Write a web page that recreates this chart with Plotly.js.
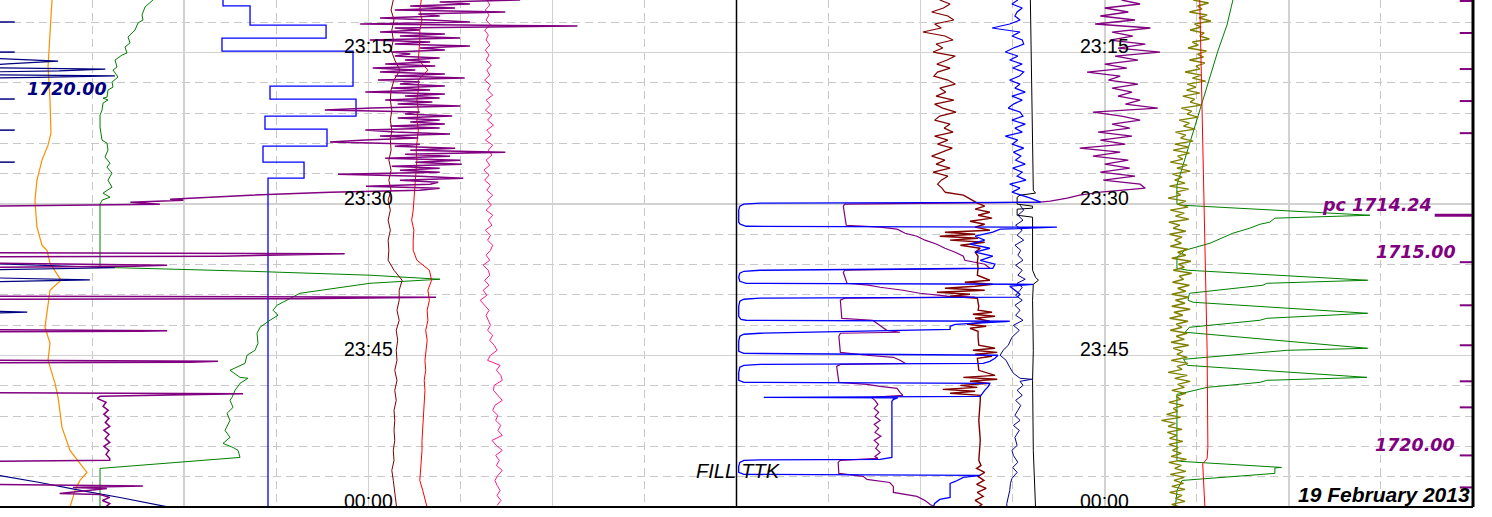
<!DOCTYPE html>
<html><head><meta charset="utf-8">
<script src="https://cdn.plot.ly/plotly-3.0.1.min.js"></script>
<style>html,body{margin:0;padding:0;background:#fff;overflow:hidden}#chart{width:1492px;height:517px}</style>
</head><body><div id="chart"></div>
<script>
// Time axis: minutes after 23:00 (60 = 00:00). Values: percent of track width (0-100).
const T_START = 9.78;           // first logged sample
const T_END = 60;               // 00:00
// ---- evenly sampled series (sample step in minutes) ----
const STEP2 = 0.19828, STEP3 = 0.29742, STEP4 = 0.39656, STEP5 = 0.4957, STEP10 = 0.9914;

// ===== LEFT TRACK =====
const orangeT = [9.78,13.05,16.42,19.69,22.97,24.16,25.64,27.63,29.61,31.10,32.28,34.07,34.57,35.85,37.54,38.53,40.22,42.20,43.78,45.47,47.75,49.14,52.11,54.39,55.68,56.57,57.37,58.36,60.04];
const orangeV = [7.06,6.79,6.52,6.79,6.92,6.52,5.70,5.02,4.75,4.89,5.02,5.70,6.38,6.79,8.28,6.79,6.52,6.11,6.79,6.52,7.47,7.88,8.42,9.50,10.86,11.81,10.86,10.18,9.50];

const greenLT = [9.78,10.47,11.27,11.76,12.06,12.75,13.05,13.45,14.04,14.44,15.03,15.23,15.73,16.42,16.72,17.41,17.91,18.41,18.70,19.40,19.50,19.69,19.99,20.69,21.18,22.37,23.66,23.96,24.65,25.34,25.94,26.34,26.93,27.63,28.32,28.91,29.31,29.61,30.00,36.25,36.65,37.04,37.44,37.84,38.83,39.32,40.02,40.51,41.01,41.50,42.20,42.79,43.78,44.48,44.97,45.77,46.46,47.16,47.25,47.75,48.44,49.14,49.44,50.13,50.72,51.42,52.41,53.10,53.70,54.10,54.39,55.09,56.18,60.04];
const greenLV = [20.77,19.69,19.28,19.42,18.74,18.33,17.92,17.38,17.65,16.97,17.24,16.57,15.61,15.89,15.34,16.02,15.21,15.34,14.66,14.53,13.99,14.66,13.99,13.85,13.58,13.58,13.85,14.53,14.66,14.26,14.94,14.53,15.21,14.66,15.21,13.99,14.94,13.85,13.58,13.58,33.95,50.24,59.74,50.24,40.73,39.38,37.61,37.07,37.75,36.66,35.30,34.90,35.03,34.62,33.54,33.27,31.23,32.59,33.67,32.59,31.91,31.50,31.23,31.64,30.82,31.23,30.55,31.23,30.28,31.64,32.32,32.59,13.58,13.58];

const blueStepT = [9.78,10.37,12.26,13.55,14.84,18.31,19.59,21.28,22.57,24.25,25.84,27.43,60.04];
const blueStepV = [30.28,33.95,44.27,30.14,47.93,36.66,48.34,35.98,44.40,35.71,41.28,36.39,36.39];

const navyLT = [15.55,15.73,15.83,16.1,16.2,16.5,16.62,16.8,16.9,17.2,17.3,17.45,17.5,35.9,36.3,36.5,37.3,37.5,37.7,40.6,40.7,40.8,56.8,56.9,57.57,58.36,59.06,60.04];
const navyLV = [-1,4.0,7.9,1.0,-1,-1,14.3,8.0,-1,-1,15.6,5.0,-1,-1,15.6,-1,-1,12.2,-1,-1,3.7,-1,-1,0,5.4,10.9,16.3,23.1];

const purpleLNoise = [70.6,59.7,63.8,55.7,61.8,53.6,68.6,56.8,59.7,51.6,
 58.4,63.8,48.9,78.4,53.6,57.0,51.6,60.4,54.3,62.5,
 50.2,58.4,53.6,63.8,57.0,60.4,53.2,55.7,53.6,59.7,
 55.0,58.4,52.3,59.1,50.6,56.4,51.6,60.4,53.6,63.1,
 51.3,57.0,54.3,60.4,53.2,58.4,49.6,60.4,55.0,59.7,
 52.3,58.7,54.0,62.5,50.5,44.1,57.0,55.0,61.4,54.0,
 59.7,55.7,60.4,53.0,59.7,49.6,53.6,61.1,51.6,56.8,
 49.6,44.8,57.0,53.6,61.8,55.7,68.6,55.0,61.1,52.3,
 62.5,56.4,62.7,53.2,59.7,54.3,59.7,45.9,57.0,62.9,
 54.3,59.5,58.4,49.7,59.7,57.0,44.8];
const purpleLT = [28.82,29.11,29.51,29.61,29.81,30.00,30.20,34.81,34.91,35.16,35.21,35.85,36.05,36.15,36.25,39.12,39.22,39.37,39.42,42.45,42.55,42.60,42.65,45.47,45.57,45.67,45.72,48.69,48.79,48.89,49.04,49.24,49.63,50.03,50.43,50.82,51.22,51.62,52.01,52.41,52.81,53.20,53.60,53.99,54.39,54.79,55.19,55.38,55.48,57.76,57.91,58.06,58.16,58.66,58.76,59.05,59.35,59.65,60.04];
const purpleLV = [44.8,34.0,23.1,24.9,17.7,21.7,-1,-1,46.8,29.9,-1,-1,22.7,18.1,-1,-1,59.2,40.7,-1,-1,22.7,19.0,-1,-1,29.6,25.8,-1,-1,33.0,24.9,13.6,13.2,14.4,14.0,14.7,14.1,14.8,14.3,14.9,14.1,14.8,14.3,14.9,14.1,14.8,14.4,14.9,14.9,-1,-1,19.4,9.9,14.5,8.1,13.6,14.9,13.9,14.9,14.3];

const maroonLV = [53.4,53.1,53.5,53.2,53.4,53.1,53.6,54.3,53.5,53.1,53.0,53.2,53.0,53.2,53.0,53.1,52.8,53.1,52.8,53.1,52.7,53.0,52.7,53.0,52.7,52.8,52.7,53.5,54.6,54.2,54.2,53.9,54.2,53.8,54.0,53.8,53.9,53.6,53.9,53.6,53.8,53.5,53.6,53.5,53.6,53.4,53.5,53.2,53.4,53.6,53.8,53.9];
const redLV = [57.2,57.0,57.3,57.0,57.0,56.9,56.8,58.1,56.8,56.8,56.6,56.8,56.6,56.8,56.6,56.5,56.6,56.5,56.4,56.4,56.2,56.1,55.9,56.2,56.1,56.1,56.6,58.3,58.6,58.1,58.3,58.0,58.1,57.8,58.0,57.8,57.7,57.8,57.6,57.7,57.6,57.6,57.4,57.4,57.3,57.3,57.2,57.0,57.0,57.4,57.8,58.1];
const pinkV = [66.1,66.5,65.9,66.4,66.0,66.6,65.8,66.3,66.0,66.5,65.9,
 66.4,66.0,66.7,66.1,66.5,65.8,66.6,66.2,66.9,66.0,
 66.6,65.9,66.8,66.2,67.0,66.1,66.7,65.9,66.9,66.3,
 66.8,66.0,66.5,65.7,66.4,65.8,66.6,66.1,66.9,66.2,
 66.7,66.0,66.9,66.3,66.8,65.9,66.6,66.2,66.9,66.6,
 66.0,66.5,65.6,66.3,66.5,65.8,66.4,65.6,66.1,65.2,
 65.8,66.4,66.0,66.3,66.6,66.2,66.9,66.5,67.1,67.5,
 66.6,66.2,67.9,67.4,68.0,68.2,67.1,67.0,67.6,68.2,
 67.2,66.9,67.6,67.3,68.0,67.6,68.2,66.8,67.4,68.2,
 67.3,67.8,67.4,68.2,67.6,67.2,67.5,67.9,67.5,68.0,67.5];
const leftTickT = [11.96,14.94,19.59,22.67,25.84];

// ===== RIGHT TRACK =====
const maroonRNoise = [27.6,29.0,28.1,26.5,28.7,29.5,26.9,27.8,25.3,28.3,29.4,27.1,28.0,26.7,29.7,28.6,27.2,29.0,27.3,26.8,28.7,29.7,27.6,28.4,27.1,29.5,26.9,28.0,29.8,27.6,26.9,29.0,28.2,29.4,26.9,28.7,27.3,29.3,27.9,26.5,28.3,27.1,29.0,26.7,28.7,27.8,27.3,27.9,28.3];
const maroonRT = [28.82,29.11,29.61,29.91,30.20,30.50,30.80,31.10,31.39,31.69,31.99,32.28,32.58,32.78,32.98,33.18,33.38,33.57,33.77,34.07,34.37,34.76,35.16,35.75,36.35,37.04,37.54,37.74,37.94,38.13,38.33,38.53,38.73,38.93,39.12,39.32,39.72,40.12,40.51,40.71,40.91,41.11,41.31,41.60,41.90,42.10,42.30,42.60,43.19,43.98,44.28,44.48,44.68,44.87,45.07,45.27,45.77,46.46,46.96,47.16,47.35,47.55,47.75,47.95,48.15,48.35,48.54,48.74,48.94,49.44,51.42,53.40,55.38,55.88,56.18,56.57,56.97,57.37,57.76,58.16,58.56,58.95,59.35,59.75,60.04];
const maroonRV = [28.3,30.8,32.0,32.7,33.7,32.4,34.4,32.8,34.7,31.7,33.7,32.4,34.4,28.3,32.4,27.6,32.8,29.0,33.7,30.4,33.1,32.4,32.8,32.7,32.8,32.7,34.4,31.0,34.8,32.4,28.3,33.7,27.2,31.7,29.0,32.7,32.8,32.9,32.8,34.7,32.1,35.1,32.4,34.4,31.3,33.9,31.7,32.8,32.8,32.9,35.1,32.1,35.4,32.4,34.7,32.7,32.8,32.9,35.1,30.8,35.4,31.7,34.4,30.4,32.7,28.0,32.4,29.0,33.1,33.1,32.9,33.1,32.9,33.2,32.6,33.7,32.8,33.6,32.6,33.9,32.7,33.5,32.4,33.3,32.8];

const blueRNoise = [38.2,37.4,38.8,38.1,37.8,38.5,37.1,34.7,38.5,37.4,38.8,39.0,37.6,36.5,38.2,37.1,38.8,37.5,39.0,38.4,37.1,38.5,37.8,39.2,37.4,38.8,37.6,36.9,38.5,38.9,37.4,39.2,37.8,38.8,36.5,38.2,37.4,39.0,37.6,38.6,37.9,39.2,37.5,38.8,38.1,39.3,37.1,38.5];
const blueRT = [28.42,28.81,29.41,29.81,29.91,30.00,30.20,30.60,31.79,31.99,32.19,32.28,32.48,32.78,33.18,33.57,33.97,34.37,34.76,35.16,35.56,35.95,36.35,36.55,36.65,36.84,37.24,37.64,37.84,37.94,38.13,38.53,38.93,39.22,39.32,39.42,39.62,40.12,41.11,41.41,41.50,41.60,41.90,42.10,42.40,42.79,42.89,43.09,43.59,44.58,44.78,44.97,45.27,45.57,45.77,45.87,45.97,46.16,46.66,47.45,47.65,47.75,48.05,48.44,48.84,49.04,49.14,49.19,49.34,49.53,55.09,55.28,55.33,55.38,55.58,55.98,56.57,56.77,56.87,57.07,57.47,57.66,58.36,59.05,59.25,59.65,60.04];
const blueRV = [38.5,37.4,39.9,41.3,3.2,1.0,0.45,0.3,0.3,0.5,1.3,43.5,35.8,34.8,32.4,33.7,31.7,34.4,32.4,34.8,33.1,35.1,34.8,3.2,1.0,0.45,0.3,0.45,1.3,40.3,37.1,37.8,38.5,38.1,3.2,1.0,0.45,0.3,0.3,0.6,1.3,37.1,29.7,29.0,29.0,3.2,1.0,0.45,0.3,0.3,1.0,35.5,35.1,34.4,33.5,3.2,1.0,0.45,0.3,0.3,1.0,34.4,34.2,33.7,33.3,33.1,3.7,21.9,21.3,21.1,21.1,19.5,3.2,1.0,0.45,0.3,0.3,1.0,33.1,30.8,29.7,29.0,29.0,29.0,27.6,26.9,26.7];

const navyRT = [30.10,30.60,31.10,31.59,32.09,32.58,33.08,33.57,34.07,34.57,35.06,35.56,36.05,36.55,37.04,37.44,37.84,38.23,38.53,39.03,39.52,40.02,40.51,41.01,41.50,42.00,42.50,43.19,43.98,44.48,44.97,45.47,46.16,46.76,47.25,47.35,47.55,47.95,48.44,48.94,49.44,49.93,50.43,50.92,51.42,51.92,52.41,53.10,53.90,54.39,54.89,55.58,56.08,56.57,57.17,57.66,58.36,59.05,59.65,60.04];
const navyRV = [38.5,39.0,38.2,38.9,37.9,38.8,38.1,39.0,37.8,38.6,38.2,38.9,37.9,38.8,38.2,39.2,38.1,38.8,38.5,37.9,38.8,37.8,38.5,37.9,38.9,37.6,38.4,37.4,36.9,36.2,35.8,36.6,37.1,37.6,38.5,40.1,38.5,38.9,38.1,38.8,37.9,38.6,38.2,37.8,38.5,37.6,38.4,37.8,38.1,37.4,37.6,38.2,37.5,38.1,37.4,37.2,37.1,36.9,36.7,36.7];

const blackRT = [9.78,14.74,19.69,24.65,28.62,28.91,29.11,29.31,30.00,30.20,30.40,30.50,31.10,31.29,34.57,36.55,37.24,37.54,37.94,39.52,44.48,47.45,54.39,60.04];
const blackRV = [39.9,40.0,40.2,40.2,40.3,40.6,38.5,38.1,38.1,40.2,40.2,38.1,38.1,40.2,40.2,40.2,40.6,41.0,40.3,40.2,40.3,40.2,40.3,40.6];

const purpleRNoise = [52.3,54.8,50.0,53.2,49.4,54.1,48.7,56.2,51.0,53.8,50.7,55.5,51.8,57.5,51.4,54.5,50.0,53.0,47.6,52.1,50.5,54.5,51.0,53.7,51.8,54.8,52.8,57.2,48.4,52.3,54.8,51.0,53.4,49.1,53.7,49.4,52.8,46.6,52.1,48.4,53.2,50.0,53.4,49.4,54.1,49.8,54.8,55.5,49.4];
const purpleRT = [28.82,29.11,29.41,29.71,29.81,29.91,30.00,30.20,31.10,32.09,32.28,32.48,32.88,33.18,33.57,33.97,34.37,34.76,35.16,35.56,35.95,36.35,36.55,36.75,37.84,38.03,38.23,38.53,38.83,39.12,39.22,39.32,39.52,41.31,41.50,42.00,42.50,42.69,42.79,43.09,44.68,44.97,45.17,45.47,45.77,45.87,46.07,47.65,47.85,48.05,48.25,48.64,48.94,49.14,49.44,49.83,50.23,50.62,51.02,51.42,51.82,52.21,52.61,53.00,53.40,53.80,54.19,54.59,54.99,55.19,55.38,55.58,56.67,56.97,57.27,57.57,57.96,58.56,58.95,59.35,59.75,60.04];
const purpleRV = [49.4,46.6,44.9,42.6,41.2,22.2,14.7,14.5,14.7,14.9,19.5,21.8,22.9,24.5,25.6,27.2,28.3,29.7,30.8,31.0,33.7,34.4,14.7,14.5,15.0,17.9,19.5,22.6,24.9,28.6,32.4,14.7,14.1,14.3,18.5,19.5,20.4,22.2,14.1,13.9,14.1,17.7,21.3,22.2,22.9,14.1,13.6,13.9,17.7,19.5,21.8,22.2,22.6,18.3,18.8,19.2,18.7,19.3,18.8,19.5,18.7,19.3,18.8,19.6,18.7,19.3,18.9,19.5,18.8,19.2,14.1,13.8,13.9,17.2,17.7,20.8,21.3,21.3,24.5,25.6,26.3,27.0];

const oliveV = [62.0,64.1,62.6,63.2,61.5,63.9,62.8,64.4,62.2,63.1,
 61.6,63.5,62.9,64.2,61.9,62.7,61.3,63.8,62.6,63.4,
 61.5,63.6,62.4,62.9,60.9,63.1,61.9,63.7,61.2,62.4,
 61.1,62.9,60.6,62.2,61.6,63.1,60.4,61.8,61.2,62.7,
 60.1,61.5,60.7,62.3,59.6,61.0,60.3,62.0,59.5,61.4,
 59.3,61.5,59.9,60.6,58.9,61.2,59.8,61.6,59.2,60.5,
 59.5,60.9,58.8,61.4,59.7,60.3,58.6,61.0,59.9,61.3,
 58.9,60.8,59.6,61.4,58.7,60.2,59.3,61.0,58.8,60.5,
 59.5,60.4,58.9,61.3,59.9,61.0,59.1,61.7,60.0,60.8,
 59.3,61.8,60.1,60.7,59.2,61.5,59.9,61.0,59.1,61.4,
 59.6,60.9,59.1,61.6,59.4,60.6,58.8,61.3,59.7,60.5,
 58.9,61.2,59.7,60.8,59.0,61.4,59.3,60.6,59.8,61.2,
 59.0,61.3,59.8,60.5,58.6,61.2,59.5,61.6,59.9,60.8,
 59.1,61.0,59.7,60.3,58.7,60.7,59.3,59.9,58.4,60.3,
 57.7,59.6,58.6,60.5,58.5,59.8,58.8,60.6,58.7,60.0,
 59.2,60.4,59.0,61.1,58.7,60.4,59.5,61.0,58.9,60.8,
 59.4,60.7,59.1,60.9,58.8,60.5,59.6,60.9,59.1,60.4];

const redRT = [9.78,19.69,29.61,34.57,44.48,54.10,55.19,55.48,55.68,60.04];
const redRV = [62.9,63.2,63.5,63.6,63.9,64.0,63.9,63.6,63.3,63.6];

const greenRT = [9.78,12.26,14.74,19.69,24.65,28.12,30.00,30.10,31.10,31.39,31.79,31.99,32.38,32.88,33.87,34.57,35.26,36.35,36.55,37.54,37.84,38.03,38.83,39.52,39.72,40.81,41.31,41.50,42.20,42.69,44.28,44.48,45.37,45.97,47.16,47.45,47.65,48.15,48.74,48.84,55.38,55.48,56.08,56.13,56.67,57.37,58.36,60.04];
const greenRV = [67.4,66.6,65.4,63.3,61.3,59.8,59.8,60.3,86.0,73.1,72.4,71.1,69.7,67.4,64.3,60.9,59.8,59.8,61.3,85.7,72.0,71.5,61.5,61.3,62.0,85.7,72.0,71.1,61.5,60.9,85.7,74.7,60.7,61.2,85.6,72.0,71.1,63.9,60.5,59.8,59.8,60.3,74.0,73.1,73.1,60.5,59.8,59.6];

const rightTickT = [9.88,13.05,16.62,19.79,22.97,35.75,40.02,43.98,47.55,50.13,54.89,58.06];
const pcTime = 31.10;

// labels
const timeLabels = ['23:15','23:30','23:45','00:00'];
const timeLabelT = [15,30,45,60];
const depthLabels = [
  {axis:'x',  v:9.1,  t:18.58, text:'1720.00',    color:'#000080'},
  {axis:'x2', v:87.0, t:30.05, text:'pc 1714.24', color:'#800080'},
  {axis:'x2', v:92.3, t:34.76, text:'1715.00',    color:'#800080'},
  {axis:'x2', v:92.1, t:53.90, text:'1720.00',    color:'#800080'}
];

// ---------- build traces ----------
const traces = [];
function add(xa, color, width, v, t, extra){
  const tr = {type:'scatter', mode:'lines', xaxis:xa, yaxis:'y', x:v, line:{color:color, width:width}, hoverinfo:'skip'};
  if (Array.isArray(t)) tr.y = t; else { tr.y0 = T_START; tr.dy = t; }
  Object.assign(tr.line, extra||{});
  traces.push(tr);
}
function ticks(times, v0, v1){
  const xs=[], ys=[];
  times.forEach(t=>{xs.push(v0,v1,null); ys.push(t,t,null);});
  return [xs, ys];
}
// left
add('x','#ff8c00',1.2,orangeV,orangeT);
add('x','#0000ff',1.3,blueStepV,blueStepT,{shape:'vh'});
add('x','#008000',1,greenLV,greenLT);
add('x','#000080',1.2,navyLV,navyLT);
add('x','#800000',1,maroonLV,STEP10);
add('x','#ff0000',1,redLV,STEP10);
add('x','#ff1a8c',1,pinkV,STEP5);
add('x','#800080',1.5,purpleLNoise,STEP2);
add('x','#800080',1.5,purpleLV,purpleLT);
let lt = ticks(leftTickT,0,2.0);
add('x','#000080',1.5,lt[0],lt[1]);
// right
add('x2','#008000',1,greenRV,greenRT);
add('x2','#808000',1.4,oliveV,STEP3);
add('x2','#ff0000',1,redRV,redRT);
add('x2','#800080',1.3,purpleRNoise,STEP4);
add('x2','#800080',1.2,purpleRV,purpleRT);
add('x2','#800000',1.2,maroonRNoise,STEP4);
add('x2','#800000',1.4,maroonRV,maroonRT);
add('x2','#000000',1,blackRV,blackRT);
add('x2','#00008b',1,navyRV,navyRT);
add('x2','#0000ff',1.2,blueRNoise,STEP4);
add('x2','#0000ff',1.3,blueRV,blueRT);
let rt = ticks(rightTickT,98.2,100);
add('x2','#800080',2,rt[0],rt[1]);
let pc = ticks([pcTime],94.8,100);
add('x2','#800080',3,pc[0],pc[1]);

// ---------- layout ----------
const gridSolid = '#d2d2d2', gridDash = '#c8c8c8';
function xAx(domain){
  return {domain:domain, range:[0,100], anchor:'y', showgrid:true, gridcolor:gridSolid, gridwidth:1.5,
    tick0:0, dtick:25, minor:{tick0:0, dtick:12.5, showgrid:true, gridcolor:gridDash, gridwidth:1, griddash:'8px,5px'},
    zeroline:false, showticklabels:false, ticks:'', showline:false, fixedrange:true};
}
const annotations = [];
timeLabels.forEach((s,i)=>{
  ['x','x2'].forEach(xa=>{
    annotations.push({xref:xa, yref:'y', x:50, y:timeLabelT[i], text:s, showarrow:false,
      xanchor:'center', yanchor:'middle', yshift:6.5,
      font:{family:'Liberation Sans, Arial, sans-serif', size:19.5, color:'#000'}});
  });
});
depthLabels.forEach(d=>{
  annotations.push({xref:d.axis, yref:'y', x:d.v, y:d.t, text:'<b><i>'+d.text+'</i></b>', showarrow:false,
    xanchor:'center', yanchor:'middle', font:{family:'DejaVu Sans, Verdana, sans-serif', size:17.5, color:d.color}});
});
annotations.push({xref:'x2', yref:'y', x:0.3, y:56.4, text:'<i>FILL TTK</i>', showarrow:false,
  xanchor:'center', yanchor:'middle', font:{family:'Liberation Sans, Arial, sans-serif', size:20, color:'#000'}});
annotations.push({xref:'x2', yref:'y', x:99.9, y:58.8, text:'<b><i>19 February 2013</i></b>', showarrow:false,
  xanchor:'right', yanchor:'middle', font:{family:'Liberation Sans, Arial, sans-serif', size:21, color:'#000'}});

const layout = {
  width:1492, height:517, margin:{l:0, r:19, t:0, b:10},
  paper_bgcolor:'#ffffff', plot_bgcolor:'#ffffff', showlegend:false,
  xaxis: xAx([0,0.5]), xaxis2: xAx([0.5,1]),
  yaxis: {range:[T_END, T_START], showgrid:true, gridcolor:gridSolid, gridwidth:1.5, tick0:0, dtick:15,
    minor:{tick0:0, dtick:3, showgrid:true, gridcolor:gridDash, gridwidth:1, griddash:'8px,5px'},
    zeroline:false, showticklabels:false, ticks:'', showline:false, fixedrange:true},
  shapes: [
    {type:'line', xref:'paper', yref:'paper', x0:0.5, x1:0.5, y0:0, y1:1, line:{color:'#000', width:1.5}},
    {type:'line', xref:'paper', yref:'paper', x0:1, x1:1, y0:0, y1:1, line:{color:'#000', width:3}},
    {type:'line', xref:'paper', yref:'paper', x0:0, x1:1, y0:0, y1:0, line:{color:'#000', width:2}}
  ],
  annotations: annotations
};
Plotly.newPlot('chart', traces, layout, {displayModeBar:false, staticPlot:true});
</script>
</body></html>
